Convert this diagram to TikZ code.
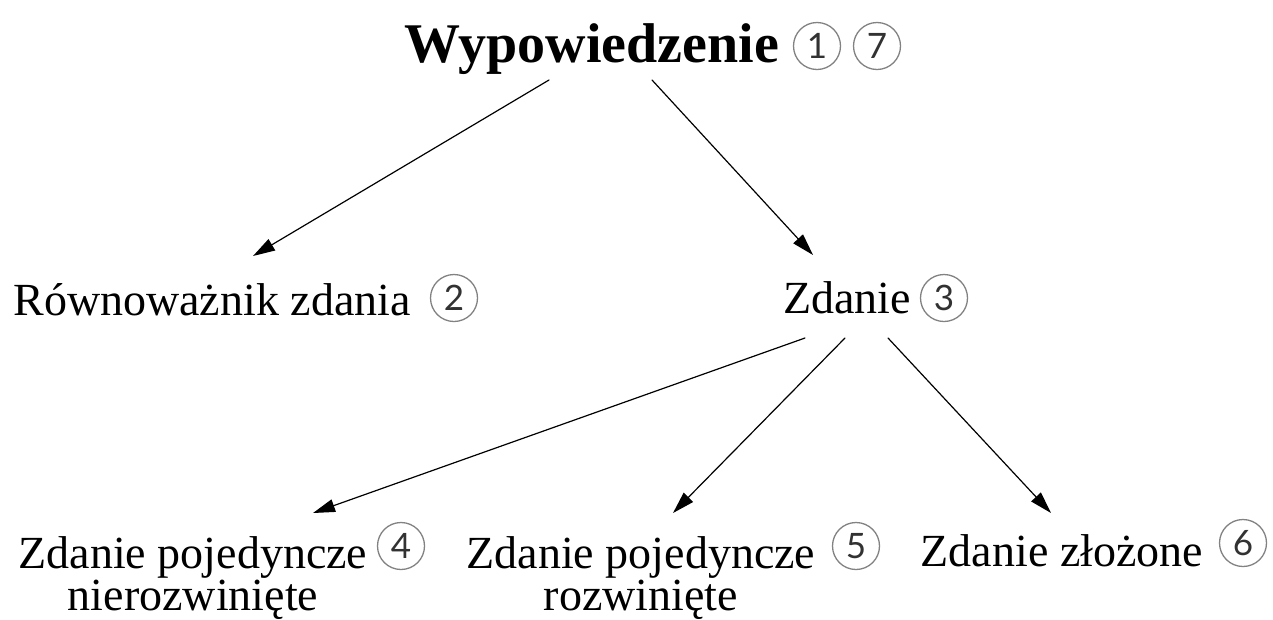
\documentclass[tikz,border=0pt]{standalone}
\usepackage{fontspec}
\setmainfont{Liberation Serif}
\newfontfamily\numfont{Lato}
\usetikzlibrary{arrows.meta,calc}
\definecolor{ringgray}{RGB}{130,130,130}
\definecolor{numgray}{RGB}{50,50,50}
\tikzset{
  term/.style={anchor=base,inner sep=0pt,align=center,font=\fontsize{46}{42}\selectfont},
  badge/.style={circle,draw=ringgray,line width=1.3pt,minimum size=47pt,inner sep=0pt,
    text=numgray,font=\numfont\fontsize{35}{35}\selectfont},
  arr/.style={line width=1.2pt,-{Triangle[length=22pt,width=13pt]}}
}
\begin{document}
\begin{tikzpicture}[line cap=round,line join=round,x=1pt,y=-1pt]
                \useasboundingbox (0,0) rectangle (1273,619);
                % terms
                \node[term,font=\bfseries\fontsize{56}{60}\selectfont] (wyp) at (592,62) {Wypowiedzenie};
                \node[term] (rown) at (212,315) {Równoważnik zdania};
                \node[term] (zdanie) at (847,313) {Zdanie};
                \node[term] (nieroz) at (193,610) {Zdanie pojedyncze\\nierozwinięte};
                \node[term] (roz) at (641,610) {Zdanie pojedyncze\\rozwinięte};
                \node[term] (zloz) at (1062,566) {Zdanie złożone};
                % numbers
                \node[badge] (n1) at (817,46) {1};
                \node[badge] (n7) at (877,46) {7};
                \node[badge] (n2) at (454,298) {2};
                \node[badge] (n3) at (944,298) {3};
                \node[badge] (n4) at (401,546) {4};
                \node[badge] (n5) at (856,546) {5};
                \node[badge] (n6) at (1243,543) {6};
                % arrows
                \draw[arr] ($(wyp.base)+(-43,18)$) -- ($(rown.base)+(41,-59)$);
                \draw[arr] ($(wyp.base)+(60,18)$) -- ($(zdanie.base)+(-34,-58)$);
                \draw[arr] ($(zdanie.base)+(-42,25)$) -- ($(nieroz.base)+(120,-97)$);
                \draw[arr] ($(zdanie.base)+(-2,25)$) -- ($(roz.base)+(32,-97)$);
                \draw[arr] ($(zdanie.base)+(41,25)$) -- ($(zloz.base)+(-11,-53)$);
\end{tikzpicture}
\end{document}
